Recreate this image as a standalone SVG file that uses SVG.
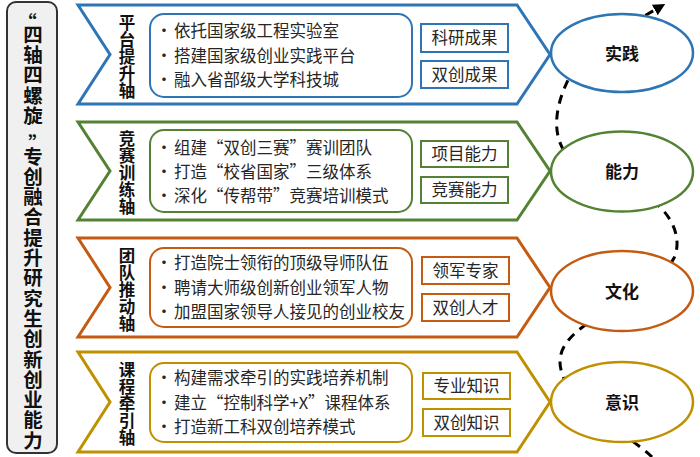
<svg xmlns="http://www.w3.org/2000/svg" width="700" height="457" viewBox="0 0 700 457">
<defs>
<style>
text{font-family:"Noto Sans CJK SC","Noto Sans",sans-serif;fill:#262626}
.side{font-size:19.5px;font-weight:bold;fill:#111;text-anchor:middle}
.axis{font-size:16.5px;font-weight:bold;fill:#111;text-anchor:middle}
.item{font-size:16.5px}
.dot{font-size:16.5px;text-anchor:middle}
.tag{font-size:16.5px;text-anchor:middle}
.goal{font-size:17px;font-weight:bold;fill:#111;text-anchor:middle}
.band{fill:#fff;stroke-width:3;stroke-linejoin:miter}
.inner{fill:#fff;stroke-width:2}
.box{fill:#fff;stroke-width:2}
.ell{fill:#fff;stroke-width:2.5}
.blue{stroke:#2E75B6}.green{stroke:#548235}.orange{stroke:#C55A11}.gold{stroke:#BF9000}
.flow{fill:none;stroke:#000;stroke-width:3;stroke-dasharray:9 7}
</style>
<marker id="arr" viewBox="0 0 10 10" refX="5" refY="5" markerWidth="4" markerHeight="4" orient="auto" markerUnits="strokeWidth">
<path d="M0,0 L10,5 L0,10 z" fill="#000"/>
</marker>
</defs>
<rect width="700" height="457" fill="#fff"/>

<g id="connectors">
<path class="flow" d="M652,457 C630,435 575,410 565,381 C555,360 560,345 580,329 C610,305 660,285 674,258 C680,245 678,225 660,207 C630,180 570,170 561,145 C552,125 558,100 569,78 C585,45 620,30 646,15 L660,7" marker-end="url(#arr)"/>
</g>

<g id="title">
<rect x="7" y="2" width="50" height="451" rx="9" fill="#F0F0F0" stroke="#333" stroke-width="2"/>
<text class="side"><tspan x="27" y="30">“</tspan><tspan x="33" y="41.7">四</tspan><tspan x="33" y="62">轴</tspan><tspan x="33" y="82.3">四</tspan><tspan x="33" y="102.6">螺</tspan><tspan x="33" y="122.9">旋</tspan><tspan x="38" y="151">”</tspan><tspan x="33" y="163.5">专</tspan><tspan x="33" y="183.8">创</tspan><tspan x="33" y="204.1">融</tspan><tspan x="33" y="224.4">合</tspan><tspan x="33" y="244.7">提</tspan><tspan x="33" y="265">升</tspan><tspan x="33" y="285.3">研</tspan><tspan x="33" y="305.6">究</tspan><tspan x="33" y="325.9">生</tspan><tspan x="33" y="346.2">创</tspan><tspan x="33" y="366.5">新</tspan><tspan x="33" y="386.8">创</tspan><tspan x="33" y="407.1">业</tspan><tspan x="33" y="427.4">能</tspan><tspan x="33" y="447.7">力</tspan></text>
</g>

<g id="band1">
<polygon class="band blue" points="78,5 517,5 550,54.5 517,104 78,104 110,54.5"/>
<text class="axis"><tspan x="127" y="28.5">平</tspan><tspan x="127" y="45.5">台</tspan><tspan x="127" y="62.5">提</tspan><tspan x="127" y="79.5">升</tspan><tspan x="127" y="96.5">轴</tspan></text>
<rect class="inner blue" x="150" y="14" width="262" height="83" rx="14"/>
<text class="item"><tspan class="dot" x="164" y="37.3">•</tspan><tspan x="174" y="37.3">依托国家级工程实验室</tspan><tspan class="dot" x="164" y="62.3">•</tspan><tspan x="174" y="62.3">搭建国家级创业实践平台</tspan><tspan class="dot" x="164" y="86.3">•</tspan><tspan x="174" y="86.3">融入省部级大学科技城</tspan></text>
<rect class="box blue" x="421" y="24" width="87" height="28"/>
<text class="tag" x="464.5" y="44.3">科研成果</text>
<rect class="box blue" x="421" y="61" width="87" height="27"/>
<text class="tag" x="464.5" y="80.8">双创成果</text>
</g>

<g id="band2">
<polygon class="band green" points="78,122 517,122 550,171 517,220 78,220 110,171"/>
<text class="axis"><tspan x="127" y="145">竞</tspan><tspan x="127" y="162">赛</tspan><tspan x="127" y="179">训</tspan><tspan x="127" y="196">练</tspan><tspan x="127" y="213">轴</tspan></text>
<rect class="inner green" x="150" y="130" width="262" height="82" rx="14"/>
<text class="item"><tspan class="dot" x="164" y="154.3">•</tspan><tspan x="174" y="154.3">组建“双创三赛”赛训团队</tspan><tspan class="dot" x="164" y="178.3">•</tspan><tspan x="174" y="178.3">打造“校省国家”三级体系</tspan><tspan class="dot" x="164" y="202.3">•</tspan><tspan x="174" y="202.3">深化“传帮带”竞赛培训模式</tspan></text>
<rect class="box green" x="421" y="141" width="87" height="26"/>
<text class="tag" x="464.5" y="160.3">项目能力</text>
<rect class="box green" x="421" y="177" width="87" height="26"/>
<text class="tag" x="464.5" y="196.3">竞赛能力</text>
</g>

<g id="band3">
<polygon class="band orange" points="78,238 517,238 550,287.5 517,337 78,337 110,287.5"/>
<text class="axis"><tspan x="127" y="261.5">团</tspan><tspan x="127" y="278.5">队</tspan><tspan x="127" y="295.5">推</tspan><tspan x="127" y="312.5">动</tspan><tspan x="127" y="329.5">轴</tspan></text>
<rect class="inner orange" x="150" y="248" width="262" height="79" rx="14"/>
<text class="item"><tspan class="dot" x="164" y="269.3">•</tspan><tspan x="174" y="269.3">打造院士领衔的顶级导师队伍</tspan><tspan class="dot" x="164" y="294.3">•</tspan><tspan x="174" y="294.3">聘请大师级创新创业领军人物</tspan><tspan class="dot" x="164" y="318.3">•</tspan><tspan x="174" y="318.3">加盟国家领导人接见的创业校友</tspan></text>
<rect class="box orange" x="422" y="257" width="87" height="27"/>
<text class="tag" x="465.5" y="276.8">领军专家</text>
<rect class="box orange" x="422" y="294" width="87" height="27"/>
<text class="tag" x="465.5" y="313.8">双创人才</text>
</g>

<g id="band4">
<polygon class="band gold" points="78,352 517,352 550,402 517,452 78,452 110,402"/>
<text class="axis"><tspan x="127" y="376">课</tspan><tspan x="127" y="393">程</tspan><tspan x="127" y="410">牵</tspan><tspan x="127" y="427">引</tspan><tspan x="127" y="444">轴</tspan></text>
<rect class="inner gold" x="150" y="363" width="262" height="79" rx="14"/>
<text class="item"><tspan class="dot" x="164" y="384.3">•</tspan><tspan x="174" y="384.3">构建需求牵引的实践培养机制</tspan><tspan class="dot" x="164" y="409.3">•</tspan><tspan x="174" y="409.3">建立“控制科学+X”课程体系</tspan><tspan class="dot" x="164" y="433.3">•</tspan><tspan x="174" y="433.3">打造新工科双创培养模式</tspan></text>
<rect class="box gold" x="423" y="373" width="87" height="26"/>
<text class="tag" x="466.5" y="392.3">专业知识</text>
<rect class="box gold" x="423" y="409" width="87" height="27"/>
<text class="tag" x="466.5" y="428.8">双创知识</text>
</g>

<g id="goal1"><ellipse class="ell blue" cx="622" cy="53" rx="71" ry="39"/><text class="goal" x="622" y="59.5">实践</text></g>
<g id="goal2"><ellipse class="ell green" cx="622" cy="171.5" rx="71" ry="40"/><text class="goal" x="622" y="178">能力</text></g>
<g id="goal3"><ellipse class="ell orange" cx="622" cy="291" rx="71" ry="40"/><text class="goal" x="622" y="297.5">文化</text></g>
<g id="goal4"><ellipse class="ell gold" cx="622" cy="402" rx="71" ry="40"/><text class="goal" x="622" y="408.5">意识</text></g>
</svg>
